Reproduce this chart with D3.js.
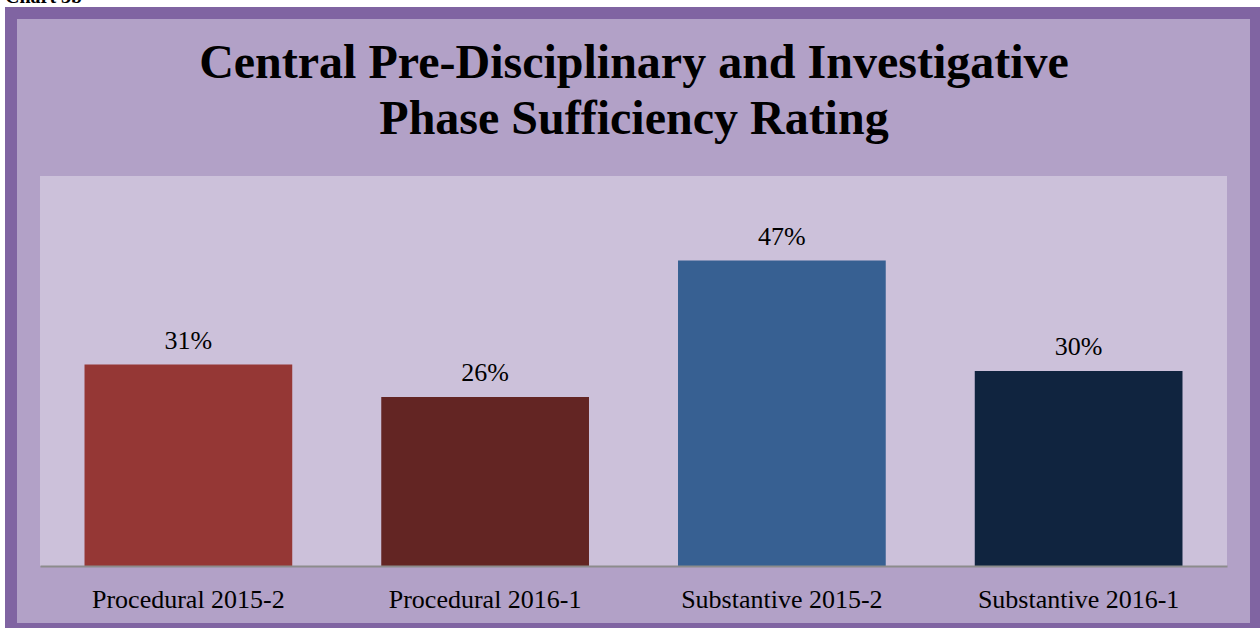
<!DOCTYPE html>
<html>
<head>
<meta charset="utf-8">
<script src="https://cdn.jsdelivr.net/npm/d3@7"></script>
<style>
  body { margin: 0; background: #fff; }
  svg { display: block; }
</style>
</head>
<body>
<svg id="chart"></svg>
<script>
const categories = ['Procedural 2015-2', 'Procedural 2016-1', 'Substantive 2015-2', 'Substantive 2016-1'];
const values = [31, 26, 47, 30];
const barColors = ['#953735', '#632523', '#376092', '#10243f'];
const titleLines = ['Central Pre-Disciplinary and Investigative', 'Phase Sufficiency Rating'];

const width = 1260;
const height = 628;
const serif = '"Liberation Serif", "Times New Roman", serif';

const svg = d3.select('#chart')
    .attr('width', width)
    .attr('height', height);

// caption cut off at the top
svg.append('text')
    .attr('x', 5)
    .attr('y', 3)
    .style('font-family', serif)
    .style('font-weight', 'bold')
    .style('font-size', '20px')
    .text('Chart 3b');

// outer frame
svg.append('rect')
    .attr('x', 5).attr('y', 7)
    .attr('width', 1255).attr('height', 621)
    .attr('fill', '#8064a2');

svg.append('rect')
    .attr('x', 17).attr('y', 19)
    .attr('width', 1233).attr('height', 604)
    .attr('fill', '#b2a1c7');

// title
svg.append('text')
    .attr('text-anchor', 'middle')
    .style('font-family', serif)
    .style('font-weight', 'bold')
    .style('font-size', '48px')
    .selectAll('tspan')
    .data(titleLines)
    .enter()
    .append('tspan')
    .attr('x', 634)
    .attr('y', (d, i) => 78 + i * 56)
    .text(d => d);

// plot area
const plot = { left: 40, right: 1227, top: 176, bottom: 566 };

svg.append('rect')
    .attr('x', plot.left).attr('y', plot.top)
    .attr('width', plot.right - plot.left)
    .attr('height', plot.bottom - plot.top)
    .attr('fill', '#ccc1da');

const x = d3.scaleBand()
    .domain(categories)
    .range([plot.left, plot.right])
    .paddingInner(0.3)
    .paddingOuter(0.15);

const y = d3.scaleLinear()
    .domain([0, 60])
    .range([plot.bottom, plot.top]);

svg.selectAll('.bar')
    .data(values)
    .enter()
    .append('rect')
    .attr('class', 'bar')
    .attr('x', (d, i) => x(categories[i]))
    .attr('y', d => y(d))
    .attr('width', x.bandwidth())
    .attr('height', d => y(0) - y(d))
    .attr('fill', (d, i) => barColors[i]);

svg.selectAll('.value-label')
    .data(values)
    .enter()
    .append('text')
    .attr('class', 'value-label')
    .attr('x', (d, i) => x(categories[i]) + x.bandwidth() / 2)
    .attr('y', d => y(d) - 16)
    .attr('text-anchor', 'middle')
    .style('font-family', serif)
    .style('font-size', '26px')
    .style('fill', '#000')
    .text(d => d + '%');

// x axis
const xAxis = svg.append('g')
    .attr('transform', `translate(0,${plot.bottom})`)
    .call(d3.axisBottom(x).tickSize(0).tickPadding(24));

xAxis.select('.domain')
    .attr('stroke', '#8c8c8c')
    .attr('stroke-width', 2);

xAxis.selectAll('text')
    .style('font-family', serif)
    .style('font-size', '26px')
    .style('fill', '#000');
</script>
</body>
</html>
